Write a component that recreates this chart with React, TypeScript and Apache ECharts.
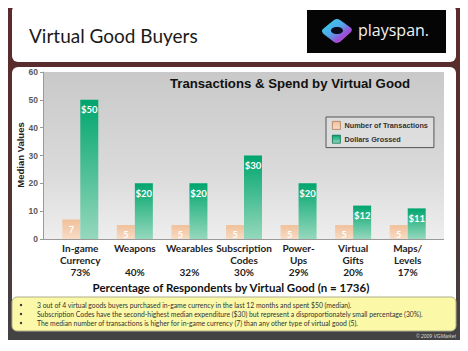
import React, { useEffect, useRef } from "react";
import * as echarts from "echarts";

const categories = ["In-game\nCurrency", "Weapons", "Wearables", "Subscription\nCodes", "Power-\nUps", "Virtual\nGifts", "Maps/\nLevels"];
const percentages = ["73%", "40%", "32%", "30%", "29%", "20%", "17%"];
const transactions = [7, 5, 5, 5, 5, 5, 5];
const dollars = [50, 20, 20, 30, 20, 12, 11];
const seriesNames = ["Number of Transactions", "Dollars Grossed"];
const pageTitle = "Virtual Good Buyers";
const chartTitle = "Transactions & Spend by Virtual Good";
const yAxisName = "Median Values";
const xAxisName = "Percentage of Respondents by Virtual Good (n = 1736)";
const bullets = [
  "3 out of 4 virtual goods buyers purchased in-game currency in the last 12 months and spent $50 (median).",
  "Subscription Codes have the second-highest median expenditure ($30) but represent a disproportionately small percentage (30%).",
  "The median number of transactions is higher for in-game currency (7) than any other type of virtual good (5).",
];
const footer = "© 2009 VGMarket";

const LOGO_D =
  "M 1.5 14.5 Q 0 12.5 2.5 10.5 L 13 2 Q 16 0 19 2 L 29.5 9.5 Q 32 11.5 30 14 L 19.5 23.5 Q 16 26 13 24 L 2.5 16 Z";
let registered = false;
function registerLogo() {
  if (registered) return;
  registered = true;
  echarts.graphic.registerShape("logo", echarts.graphic.extendPath(LOGO_D, {}) as any);
}

const lin = (x2: number, y2: number, stops: [number, string][]) => ({
  type: "linear",
  x: 0,
  y: 0,
  x2,
  y2,
  colorStops: stops.map(([offset, color]) => ({ offset, color })),
});

export default function App() {
  const ref = useRef<HTMLDivElement>(null);
  useEffect(() => {
    if (!ref.current) return;
    registerLogo();
    const chart = echarts.init(ref.current, undefined, { renderer: "svg" });
    const xLabels = categories.map((c, i) => c + (c.includes("\n") ? "\n" : "\n\n") + percentages[i]);
    const calibri = "Lato, 'Open Sans', sans-serif";
    const arial = "'Liberation Sans', Arial, sans-serif";

    const bulletElems: any[] = [];
    bullets.forEach((b, i) => {
      const y = 305 + i * 9;
      bulletElems.push({
        type: "circle",
        z: 6,
        shape: { cx: 21, cy: y, r: 1.2 },
        style: { fill: "#333" },
      });
      bulletElems.push({
        type: "text",
        z: 6,
        style: {
          text: b,
          x: 37,
          y,
          fill: "#333",
          font: `6.8px ${calibri}`,
          textAlign: "left",
          textVerticalAlign: "middle",
          align: "left",
          verticalAlign: "middle",
        },
      });
    });

    chart.setOption({
      animation: false,
      backgroundColor: "#ffffff",
      graphic: {
        elements: [
          {
            type: "rect",
            z: 0,
            shape: { x: 7, y: 0, width: 455, height: 340 },
            style: {
              fill: lin(0, 1, [
                [0, "#5d2a2a"],
                [0.55, "#523232"],
                [1, "#434343"],
              ]),
            },
          },
          {
            type: "rect",
            z: 1,
            shape: { x: 12, y: 5, width: 444, height: 57, r: 6 },
            style: { fill: "#ffffff" },
          },
          {
            type: "rect",
            z: 1,
            shape: { x: 12, y: 67, width: 444, height: 264, r: 6 },
            style: { fill: "#ffffff" },
          },
          {
            type: "rect",
            z: 2,
            shape: { x: 43, y: 72, width: 401, height: 167 },
            style: {
              fill: lin(0, 1, [
                [0, "#c9c9c9"],
                [0.6, "#dadada"],
                [1, "#eeeeee"],
              ]),
            },
          },
          {
            type: "line",
            z: 4,
            shape: { x1: 40, y1: 239.5, x2: 444, y2: 239.5 },
            style: { stroke: "#9a9a9a", lineWidth: 1 },
          },
          {
            type: "text",
            z: 6,
            style: {
              text: pageTitle,
              x: 29,
              y: 35,
              fill: "#1a1a1a",
              font: `19px ${calibri}`,
              textAlign: "left",
              textVerticalAlign: "middle",
              align: "left",
              verticalAlign: "middle",
            },
          },
          {
            type: "rect",
            z: 2,
            shape: { x: 307, y: 10, width: 139, height: 43 },
            style: { fill: "#050505" },
          },
          {
            type: "logo",
            z: 3,
            x: 321,
            y: 18,
            scaleX: 1,
            scaleY: 1,
            style: {
              fill: lin(1, 1, [
                [0, "#35d6ec"],
                [0.45, "#4fa8e8"],
                [0.7, "#9b4fd8"],
                [1, "#e04fb0"],
              ]),
            },
          },
          {
            type: "ellipse",
            z: 4,
            shape: { cx: 337, cy: 30.5, rx: 6, ry: 3.6 },
            style: { fill: "#0a0a1a" },
          },
          {
            type: "text",
            z: 6,
            style: {
              text: "playspan.",
              x: 358,
              y: 30,
              fill: "#f2f2f2",
              font: `16px 'Open Sans', sans-serif`,
              textAlign: "left",
              textVerticalAlign: "middle",
              align: "left",
              verticalAlign: "middle",
            },
          },
          {
            type: "text",
            z: 6,
            style: {
              text: chartTitle,
              x: 290,
              y: 83,
              fill: "#111",
              font: `bold 13.2px ${arial}`,
              textAlign: "center",
              textVerticalAlign: "middle",
              align: "center",
              verticalAlign: "middle",
            },
          },
          {
            type: "text",
            z: 6,
            style: {
              text: xAxisName,
              x: 231,
              y: 287,
              fill: "#111",
              font: `bold 11.5px ${calibri}`,
              textAlign: "center",
              textVerticalAlign: "middle",
              align: "center",
              verticalAlign: "middle",
            },
          },
          {
            type: "text",
            z: 6,
            rotation: Math.PI / 2,
            x: 20,
            y: 155,
            style: {
              text: yAxisName,
              x: 0,
              y: 0,
              fill: "#222",
              font: `bold 9.5px ${arial}`,
              textAlign: "center",
              textVerticalAlign: "middle",
              align: "center",
              verticalAlign: "middle",
            },
          },
          {
            type: "rect",
            z: 3,
            shape: { x: 12, y: 297, width: 444, height: 34, r: 5 },
            style: { fill: "#fbf9a8", stroke: "#b0ae8a", lineWidth: 1 },
          },
          ...bulletElems,
          {
            type: "text",
            z: 6,
            style: {
              text: footer,
              x: 456,
              y: 336,
              fill: "#d8d8d8",
              font: `italic 5px ${arial}`,
              textAlign: "right",
              textVerticalAlign: "middle",
              align: "right",
              verticalAlign: "middle",
            },
          },
        ],
      },
      legend: {
        z: 8,
        orient: "vertical",
        left: 326,
        top: 117,
        padding: [4, 6, 4, 6],
        itemGap: 5,
        itemWidth: 8,
        itemHeight: 8,
        backgroundColor: "rgba(225,225,225,0.7)",
        borderColor: "#555",
        borderWidth: 1,
        textStyle: { fontFamily: arial, fontWeight: "bold", fontSize: 7.3, color: "#333", padding: [0, 0, 0, -1] },
        data: [
          { name: seriesNames[0], icon: "rect", itemStyle: { borderColor: "#b07a55", borderWidth: 0.8 } },
          { name: seriesNames[1], icon: "rect", itemStyle: { borderColor: "#0a6e4c", borderWidth: 0.8 } },
        ],
      },
      grid: { left: 53, right: 33, top: 72, bottom: 112 },
      xAxis: {
        type: "category",
        z: 5,
        data: xLabels,
        axisLine: { show: false },
        axisTick: { show: false },
        axisLabel: {
          interval: 0,
          margin: 3,
          fontFamily: calibri,
          fontWeight: "bold",
          fontSize: 10,
          lineHeight: 11.8,
          color: "#1e1e1e",
        },
      },
      yAxis: {
        type: "value",
        z: 5,
        min: 0,
        max: 60,
        interval: 10,
        offset: 10,
        axisLine: { show: true, lineStyle: { color: "#999" } },
        axisTick: { show: true, length: 3, lineStyle: { color: "#999" } },
        axisLabel: { margin: 5, fontFamily: arial, fontWeight: "bold", fontSize: 8.5, color: "#5a5a5a" },
        splitLine: { show: false },
      },
      series: [
        {
          name: seriesNames[0],
          type: "bar",
          z: 5,
          data: transactions,
          barWidth: 18,
          barGap: "0%",
          itemStyle: {
            color: lin(0, 1, [
              [0, "#f1c09a"],
              [1, "#f8dcc5"],
            ]),
          },
          label: {
            show: true,
            position: "insideTop",
            distance: 5,
            color: "#ffffff",
            fontFamily: calibri,
            fontWeight: "bold",
            fontSize: 9,
          },
        },
        {
          name: seriesNames[1],
          type: "bar",
          z: 5,
          data: dollars,
          barWidth: 18,
          barGap: "0%",
          itemStyle: {
            color: lin(0, 1, [
              [0, "#00a56d"],
              [1, "#95d8bd"],
            ]),
          },
          label: {
            show: true,
            position: "insideTop",
            distance: 5,
            color: "#ffffff",
            fontFamily: calibri,
            fontWeight: "bold",
            fontSize: 9.5,
            formatter: (p: any) => "$" + p.value,
          },
        },
      ],
    });
    return () => chart.dispose();
  }, []);
  return <div ref={ref} style={{ width: 468, height: 351, marginLeft: -8, marginTop: -8 }} />;
}
